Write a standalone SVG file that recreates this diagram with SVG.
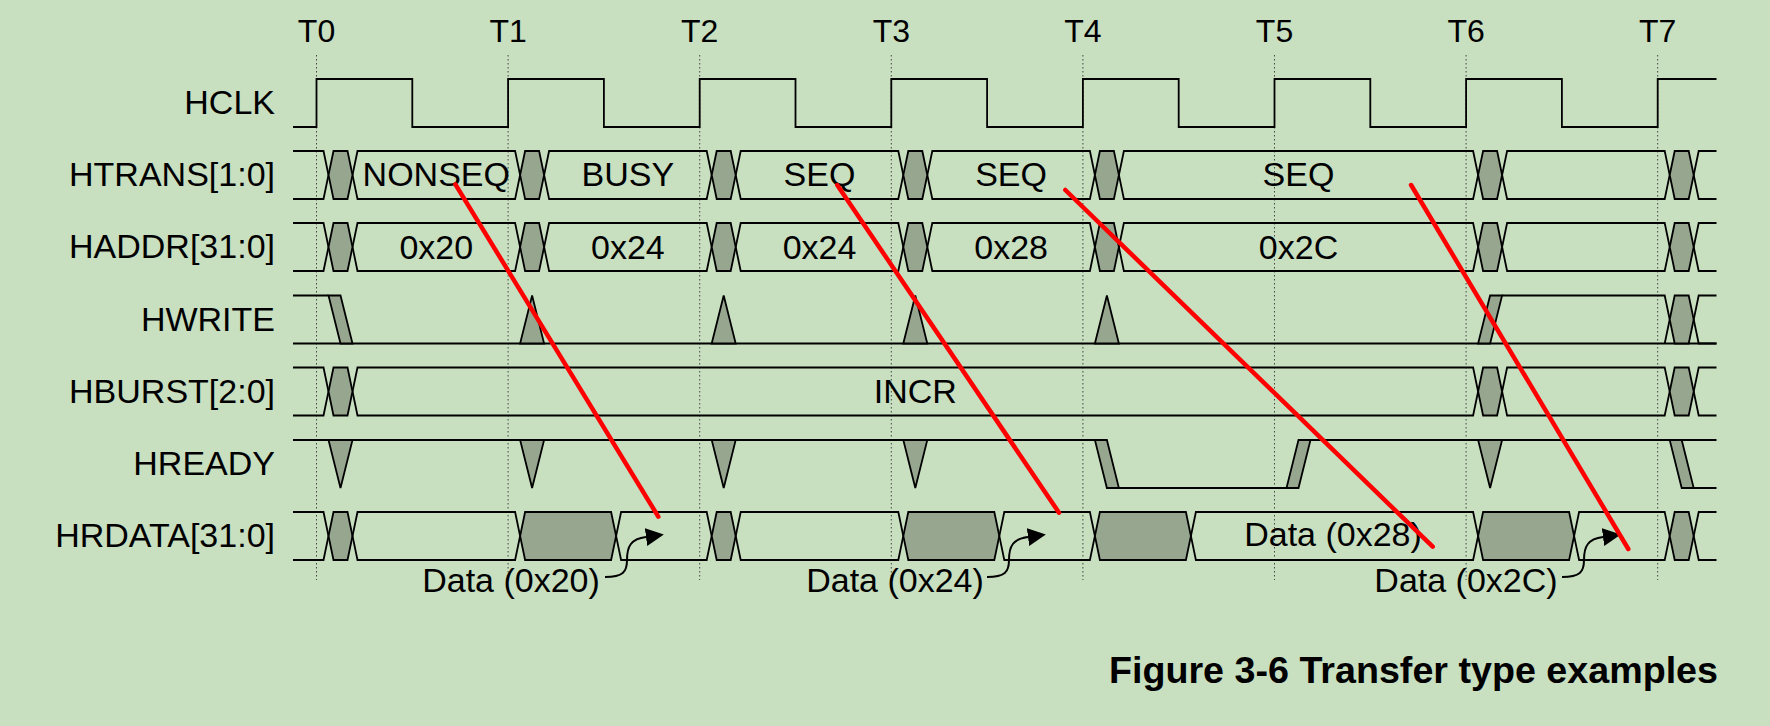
<svg xmlns="http://www.w3.org/2000/svg" xmlns:xlink="http://www.w3.org/1999/xlink" width="1770" height="726" viewBox="0 0 1770 726">
<style>
text{font-family:"Liberation Sans",Arial,Helvetica,sans-serif;fill:#000}
.lbl{font-size:34px;text-anchor:end}
.val{font-size:34px;text-anchor:middle}
.tk{font-size:32px;text-anchor:middle}
.cap{font-size:36px;font-weight:bold}
.ln{fill:none;stroke:#000;stroke-width:1.8;stroke-linejoin:miter}
.g{fill:#96a68f;stroke:#000;stroke-width:1.8;stroke-linejoin:miter}
.dot{stroke:#444;stroke-width:1;stroke-dasharray:1.5 2.5}
.red{stroke:#ff0000;stroke-width:4.5;stroke-linecap:round}
.crv{fill:none;stroke:#000;stroke-width:2}
</style>
<defs>
<polygon id="gx" class="g" points="0,24 5,0 19,0 24,24 19,48 5,48"/>
<polygon id="tu" class="g" points="0,48 12,0 24,48"/>
<polygon id="td" class="g" points="0,0 24,0 12,48"/>
<marker id="ah" viewBox="0 0 18 18" refX="0" refY="9" markerWidth="18" markerHeight="18" markerUnits="userSpaceOnUse" orient="auto">
<path d="M0,0 L18,9 L0,18 Z" fill="#000"/>
</marker>
</defs>
<rect width="1770" height="726" fill="#c8dfc0"/>

<g id="grid">
<line class="dot" x1="316.5" y1="55" x2="316.5" y2="580"/>
<line class="dot" x1="508.1" y1="55" x2="508.1" y2="580"/>
<line class="dot" x1="699.7" y1="55" x2="699.7" y2="580"/>
<line class="dot" x1="891.3" y1="55" x2="891.3" y2="580"/>
<line class="dot" x1="1082.9" y1="55" x2="1082.9" y2="580"/>
<line class="dot" x1="1274.5" y1="55" x2="1274.5" y2="580"/>
<line class="dot" x1="1466.1" y1="55" x2="1466.1" y2="580"/>
<line class="dot" x1="1657.7" y1="55" x2="1657.7" y2="580"/>
<text class="tk" x="316.5" y="42">T0</text>
<text class="tk" x="508.1" y="42">T1</text>
<text class="tk" x="699.7" y="42">T2</text>
<text class="tk" x="891.3" y="42">T3</text>
<text class="tk" x="1082.9" y="42">T4</text>
<text class="tk" x="1274.5" y="42">T5</text>
<text class="tk" x="1466.1" y="42">T6</text>
<text class="tk" x="1657.7" y="42">T7</text>
</g>

<g id="hclk">
<text class="lbl" x="275" y="113.5">HCLK</text>
<path class="ln" d="M293,127 H316.5 V79 H412.3 V127 H508.1 V79 H603.9 V127 H699.7 V79 H795.5 V127 H891.3 V79 H987.1 V127 H1082.9 V79 H1178.7 V127 H1274.5 V79 H1370.3 V127 H1466.1 V79 H1561.9 V127 H1657.7 V79 H1716.5"/>
</g>

<g id="htrans">
<text class="lbl" x="275" y="185.5">HTRANS[1:0]</text>
<path class="ln" d="M293,151 H323.5 L328.5,175 L323.5,199 H293"/>
<polygon class="ln" points="352.5,175 357.5,151 515.1,151 520.1,175 515.1,199 357.5,199"/>
<polygon class="ln" points="544.1,175 549.1,151 706.7,151 711.7,175 706.7,199 549.1,199"/>
<polygon class="ln" points="735.7,175 740.7,151 898.3,151 903.3,175 898.3,199 740.7,199"/>
<polygon class="ln" points="927.3,175 932.3,151 1089.9,151 1094.9,175 1089.9,199 932.3,199"/>
<polygon class="ln" points="1118.9,175 1123.9,151 1473.1,151 1478.1,175 1473.1,199 1123.9,199"/>
<polygon class="ln" points="1502.1,175 1507.1,151 1664.7,151 1669.7,175 1664.7,199 1507.1,199"/>
<path class="ln" d="M1716.5,151 H1698.7 L1693.7,175 L1698.7,199 H1716.5"/>
<use href="#gx" x="328.5" y="151"/><use href="#gx" x="520.1" y="151"/><use href="#gx" x="711.7" y="151"/><use href="#gx" x="903.3" y="151"/><use href="#gx" x="1094.9" y="151"/><use href="#gx" x="1478.1" y="151"/><use href="#gx" x="1669.7" y="151"/>
<text class="val" x="436.3" y="186">NONSEQ</text>
<text class="val" x="627.9" y="186">BUSY</text>
<text class="val" x="819.5" y="186">SEQ</text>
<text class="val" x="1011.1" y="186">SEQ</text>
<text class="val" x="1298.5" y="186">SEQ</text>
</g>

<g id="haddr">
<text class="lbl" x="275" y="258">HADDR[31:0]</text>
<path class="ln" d="M293,223 H323.5 L328.5,247 L323.5,271 H293"/>
<polygon class="ln" points="352.5,247 357.5,223 515.1,223 520.1,247 515.1,271 357.5,271"/>
<polygon class="ln" points="544.1,247 549.1,223 706.7,223 711.7,247 706.7,271 549.1,271"/>
<polygon class="ln" points="735.7,247 740.7,223 898.3,223 903.3,247 898.3,271 740.7,271"/>
<polygon class="ln" points="927.3,247 932.3,223 1089.9,223 1094.9,247 1089.9,271 932.3,271"/>
<polygon class="ln" points="1118.9,247 1123.9,223 1473.1,223 1478.1,247 1473.1,271 1123.9,271"/>
<polygon class="ln" points="1502.1,247 1507.1,223 1664.7,223 1669.7,247 1664.7,271 1507.1,271"/>
<path class="ln" d="M1716.5,223 H1698.7 L1693.7,247 L1698.7,271 H1716.5"/>
<use href="#gx" x="328.5" y="223"/><use href="#gx" x="520.1" y="223"/><use href="#gx" x="711.7" y="223"/><use href="#gx" x="903.3" y="223"/><use href="#gx" x="1094.9" y="223"/><use href="#gx" x="1478.1" y="223"/><use href="#gx" x="1669.7" y="223"/>
<text class="val" x="436.3" y="258.5">0x20</text>
<text class="val" x="627.9" y="258.5">0x24</text>
<text class="val" x="819.5" y="258.5">0x24</text>
<text class="val" x="1011.1" y="258.5">0x28</text>
<text class="val" x="1298.5" y="258.5">0x2C</text>
</g>

<g id="hwrite">
<text class="lbl" x="275" y="330.5">HWRITE</text>
<path class="ln" d="M293,343.5 H1716.5"/>
<path class="ln" d="M293,295.5 H328.5"/>
<polygon class="g" points="328.5,295.5 340.5,295.5 352.5,343.5 340.5,343.5"/>
<use href="#tu" x="520.1" y="295.5"/><use href="#tu" x="711.7" y="295.5"/><use href="#tu" x="903.3" y="295.5"/><use href="#tu" x="1094.9" y="295.5"/>
<polygon class="g" points="1478.1,343.5 1490.1,343.5 1502.1,295.5 1490.1,295.5"/>
<path class="ln" d="M1502.1,295.5 H1664.7 L1669.7,319.5 L1664.7,343.5"/>
<use href="#gx" x="1669.7" y="295.5"/>
<path class="ln" d="M1716.5,295.5 H1698.7 L1693.7,319.5 L1698.7,343.5 H1716.5"/>
</g>

<g id="hburst">
<text class="lbl" x="275" y="402.5">HBURST[2:0]</text>
<path class="ln" d="M293,367.5 H323.5 L328.5,391.5 L323.5,415.5 H293"/>
<polygon class="ln" points="352.5,391.5 357.5,367.5 1473.1,367.5 1478.1,391.5 1473.1,415.5 357.5,415.5"/>
<polygon class="ln" points="1502.1,391.5 1507.1,367.5 1664.7,367.5 1669.7,391.5 1664.7,415.5 1507.1,415.5"/>
<path class="ln" d="M1716.5,367.5 H1698.7 L1693.7,391.5 L1698.7,415.5 H1716.5"/>
<use href="#gx" x="328.5" y="367.5"/><use href="#gx" x="1478.1" y="367.5"/><use href="#gx" x="1669.7" y="367.5"/>
<text class="val" x="915.3" y="402.5">INCR</text>
</g>

<g id="hready">
<text class="lbl" x="275" y="475">HREADY</text>
<path class="ln" d="M293,440 H1094.9"/>
<polygon class="g" points="1094.9,440 1106.9,440 1118.9,488 1106.9,488"/>
<path class="ln" d="M1106.9,488 H1298.5"/>
<polygon class="g" points="1286.5,488 1298.5,488 1310.5,440 1298.5,440"/>
<path class="ln" d="M1298.5,440 H1716.5"/>
<polygon class="g" points="1669.7,440 1681.7,440 1693.7,488 1681.7,488"/>
<path class="ln" d="M1681.7,488 H1716.5"/>
<use href="#td" x="328.5" y="440"/><use href="#td" x="520.1" y="440"/><use href="#td" x="711.7" y="440"/><use href="#td" x="903.3" y="440"/><use href="#td" x="1478.1" y="440"/>
</g>

<g id="hrdata">
<text class="lbl" x="275" y="547">HRDATA[31:0]</text>
<path class="ln" d="M293,512 H323.5 L328.5,536 L323.5,560 H293"/>
<use href="#gx" x="328.5" y="512"/>
<polygon class="ln" points="352.5,536 357.5,512 515.1,512 520.1,536 515.1,560 357.5,560"/>
<polygon class="g" points="520.1,536 525.1,512 611.1,512 616.1,536 611.1,560 525.1,560"/>
<polygon class="ln" points="616.1,536 621.1,512 706.7,512 711.7,536 706.7,560 621.1,560"/>
<use href="#gx" x="711.7" y="512"/>
<polygon class="ln" points="735.7,536 740.7,512 898.3,512 903.3,536 898.3,560 740.7,560"/>
<polygon class="g" points="903.3,536 908.3,512 994.3,512 999.3,536 994.3,560 908.3,560"/>
<polygon class="ln" points="999.3,536 1004.3,512 1089.9,512 1094.9,536 1089.9,560 1004.3,560"/>
<polygon class="g" points="1094.9,536 1099.9,512 1185.9,512 1190.9,536 1185.9,560 1099.9,560"/>
<polygon class="ln" points="1190.9,536 1195.9,512 1473.1,512 1478.1,536 1473.1,560 1195.9,560"/>
<polygon class="g" points="1478.1,536 1483.1,512 1569.1,512 1574.1,536 1569.1,560 1483.1,560"/>
<polygon class="ln" points="1574.1,536 1579.1,512 1664.7,512 1669.7,536 1664.7,560 1579.1,560"/>
<use href="#gx" x="1669.7" y="512"/>
<path class="ln" d="M1716.5,512 H1698.7 L1693.7,536 L1698.7,560 H1716.5"/>
<text class="val" x="1333" y="546">Data (0x28)</text>
</g>

<g id="data-notes">
<text class="val" x="511" y="592">Data (0x20)</text>
<text class="val" x="895" y="592">Data (0x24)</text>
<text class="val" x="1466" y="592">Data (0x2C)</text>
</g>

<g id="connectors">
<path class="crv" marker-end="url(#ah)" d="M605,577 C623,577 627,572 627,560 C627,546 631,539 646,537"/>
<path class="crv" marker-end="url(#ah)" d="M987,577 C1005,577 1009,572 1009,560 C1009,546 1013,539 1028,537"/>
<path class="crv" marker-end="url(#ah)" d="M1562,577 C1580,577 1584,572 1584,560 C1584,546 1588,539 1603,537"/>
<line class="red" x1="455.4" y1="184.3" x2="658.3" y2="516.7"/>
<line class="red" x1="837.2" y1="185" x2="1059" y2="512.7"/>
<line class="red" x1="1065.3" y1="190" x2="1432.7" y2="546.7"/>
<line class="red" x1="1411.1" y1="185" x2="1628.3" y2="549"/>
</g>

<text class="cap" x="1109" y="683" textLength="609" lengthAdjust="spacingAndGlyphs">Figure 3-6 Transfer type examples</text>
</svg>
